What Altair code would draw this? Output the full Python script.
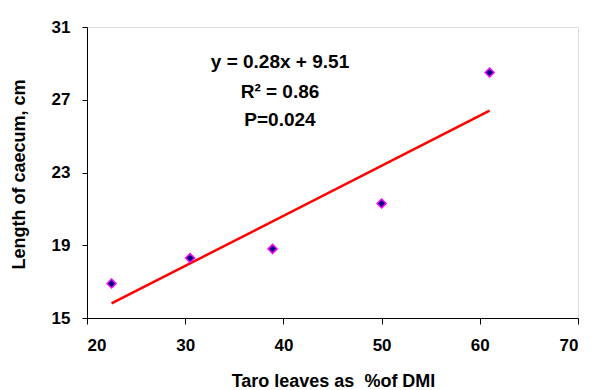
import altair as alt
import pandas as pd

# Data
taro_pct = [22.5, 30.5, 38.9, 50.0, 61.0]
caecum_len = [16.9, 18.3, 18.8, 21.3, 28.5]

trend_x = [22.5, 61.0]
trend_y = [15.8, 26.4]

annot_lines = ["y = 0.28x + 9.51", "R\u00b2 = 0.86", "P=0.024"]

pts = pd.DataFrame({"x": taro_pct, "y": caecum_len})
trend = pd.DataFrame({"x": trend_x, "y": trend_y})

FONT = "Liberation Sans"

xscale = alt.Scale(domain=[20, 70], nice=False, zero=False)
yscale = alt.Scale(domain=[15, 31], nice=False, zero=False)

xaxis = alt.Axis(
    values=[20, 30, 40, 50, 60, 70], title="Taro leaves as\u00a0\u00a0%of DMI",
    grid=False, domainColor="black", tickColor="black", tickSize=6,
    labelFont=FONT, labelFontSize=17, labelFontWeight="bold", labelColor="black",
    labelPadding=13, titleFont=FONT, titleFontSize=18, titleFontWeight="bold",
    titleColor="black", titleX=246, titleY=63, titleAnchor="middle",
    titleAlign="center", titleBaseline="middle",
)
yaxis = alt.Axis(
    values=[15, 19, 23, 27, 31], title="Length of caecum, cm",
    grid=False, domainColor="black", tickColor="black", tickSize=5,
    labelFont=FONT, labelFontSize=17, labelFontWeight="bold", labelColor="black",
    labelPadding=12, titleFont=FONT, titleFontSize=18, titleFontWeight="bold",
    titleColor="black", titleX=-68, titleY=147, titleAngle=-90,
    titleAlign="center", titleBaseline="middle", titleAnchor="middle",
)

X = alt.X("x:Q", scale=xscale, axis=xaxis)
Y = alt.Y("y:Q", scale=yscale, axis=yaxis)

line = alt.Chart(trend).mark_line(color="#FF0000", strokeWidth=2.5).encode(x=X, y=Y)

points = alt.Chart(pts).mark_point(
    shape="diamond", filled=True, fill="#000080", stroke="#FF00FF",
    strokeWidth=1.5, size=80, opacity=1,
).encode(x=X, y=Y)

text_y = [35, 65, 93]
texts = []
for t, yy in zip(annot_lines, text_y):
    texts.append(
        alt.Chart(pd.DataFrame({"t": [t]})).mark_text(
            font=FONT, fontSize=19, fontWeight="bold", color="black",
            align="center", baseline="middle",
        ).encode(x=alt.value(193), y=alt.value(yy), text="t:N")
    )

chart = alt.layer(line, points, *texts).properties(
    width=491, height=291,
    padding={"left": 79, "top": 19, "right": 5, "bottom": 72},
    autosize=alt.AutoSizeParams(type="none"),
).configure_view(stroke=None).configure(background="white")

chart.save("out.html", embed_options={"renderer": "svg", "actions": False})
